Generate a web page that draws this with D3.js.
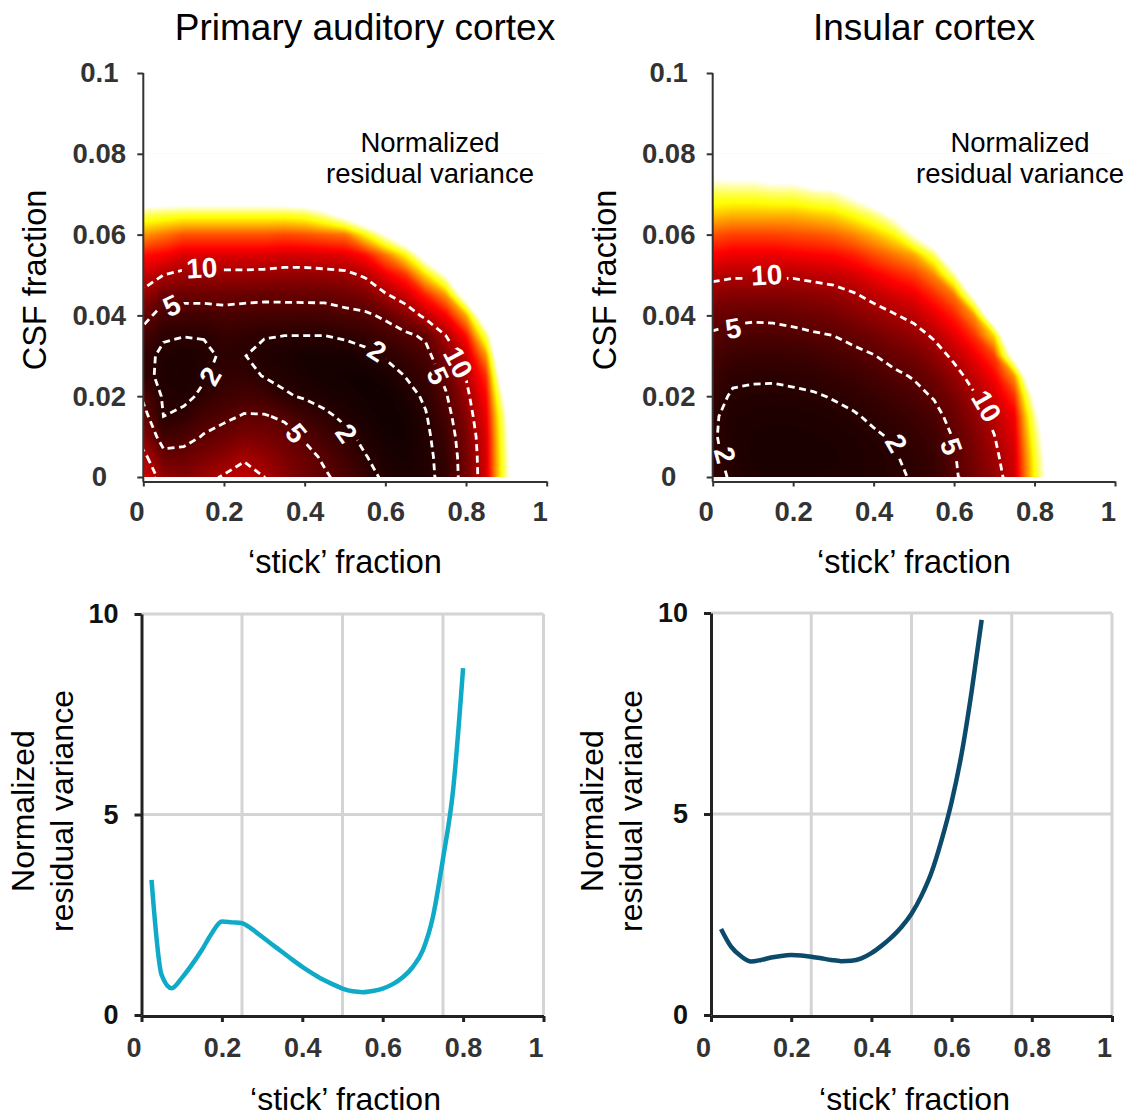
<!DOCTYPE html>
<html>
<head>
<meta charset="utf-8">
<script src="https://cdn.jsdelivr.net/npm/d3@7"></script>
<style>
  body { margin: 0; background: #fff; }
  svg { display: block; }
</style>
</head>
<body>
<svg id="chart" width="1131" height="1117"></svg>
<script>
// ---- heatmap grid (stick fraction columns x CSF fraction rows) ----
const stickGrid = [0, 0.05, 0.1, 0.15, 0.2, 0.25, 0.3, 0.35, 0.4, 0.45, 0.5,
                   0.55, 0.6, 0.65, 0.7, 0.75, 0.8, 0.85, 0.9, 0.95, 1]
const csfGrid = [0, 0.005, 0.01, 0.015, 0.02, 0.025, 0.03, 0.035, 0.04,
                 0.045, 0.05, 0.055, 0.06, 0.065, 0.07, 0.075, 0.08]

// normalized residual variance, one array per stick value (CSF 0 -> 0.08)
const auditoryCols = [
  [13, 11, 8, 6, 4.5, 2.7, 2.6, 4, 6, 9, 12, 16, 24, 34, 50, 60, 60],
  [8.5, 6, 3.5, 2.0, 1.7, 1.4, 1.6, 2.2, 3.8, 6, 10, 15, 22, 33, 50, 60, 60],
  [7.5, 6, 4, 2.5, 1.5, 1.2, 1.3, 2.05, 3.5, 6, 9, 13, 20, 32, 50, 60, 60],
  [9, 7, 5.2, 3.8, 2.4, 1.8, 1.6, 2.1, 3.5, 6, 9, 13, 20, 32, 50, 60, 60],
  [10.3, 8, 6, 4.5, 3.3, 2.6, 2.25, 2.8, 4, 6, 9, 13, 20, 32, 50, 60, 60],
  [11.5, 9.5, 7, 5.2, 3.8, 2.6, 2.05, 2.5, 3.8, 5.8, 9, 13, 20, 32, 50, 60, 60],
  [10, 8.5, 6.8, 5.2, 3.4, 1.9, 1.5, 2.1, 3.8, 5.6, 8.8, 13, 20, 32, 50, 60, 60],
  [8, 7, 6, 4.6, 2.2, 1.6, 1.2, 2.0, 3.7, 5.7, 8.5, 12.5, 19.5, 32, 51, 60, 60],
  [6.5, 5.8, 4.7, 3.2, 1.8, 1.1, 0.9, 2.0, 3.6, 5.8, 8.4, 12.7, 20, 33, 52, 60, 60],
  [5.3, 4.6, 3.6, 2.4, 1.3, 0.8, 1.0, 2.0, 3.7, 5.8, 8.7, 13, 21, 37, 55, 60, 60],
  [4.2, 3.5, 2.5, 1.6, 1.0, 0.7, 0.9, 2.3, 4.2, 6.3, 9, 13.5, 22, 44, 60, 60, 60],
  [2.8, 2.1, 1.5, 1.0, 0.7, 0.7, 1.4, 2.8, 4.5, 7, 10.5, 16, 30, 52, 60, 60, 60],
  [1.6, 1.2, 0.8, 0.6, 0.6, 1.0, 2.2, 3.6, 5.5, 9.5, 14, 22, 40, 60, 60, 60, 60],
  [1.2, 0.9, 0.7, 0.8, 1.3, 2.05, 3.0, 4.4, 7.5, 12, 18, 30, 52, 60, 60, 60, 60],
  [1.5, 1.5, 1.6, 1.85, 2.3, 3.0, 4.0, 5.5, 11, 17, 28, 45, 60, 60, 60, 60, 60],
  [2.6, 2.8, 3.2, 3.8, 4.7, 5.8, 7.5, 10, 15, 24, 40, 58, 60, 60, 60, 60, 60],
  [6.5, 6.6, 7, 7.8, 8.8, 10.2, 11.5, 16, 25, 45, 60, 60, 60, 60, 60, 60, 60],
  [12.5, 12.7, 13, 14, 15.5, 18, 24, 34, 50, 60, 60, 60, 60, 60, 60, 60, 60],
  [36, 36.5, 37.5, 39, 44, 52, 60, 60, 60, 60, 60, 60, 60, 60, 60, 60, 60],
  [60, 60, 60, 60, 60, 60, 60, 60, 60, 60, 60, 60, 60, 60, 60, 60, 60],
  [60, 60, 60, 60, 60, 60, 60, 60, 60, 60, 60, 60, 60, 60, 60, 60, 60]
]

const insularCols = [
  [2.5, 2.3, 2.15, 2.2, 2.6, 3.2, 3.9, 4.7, 6, 8, 11, 15, 20, 27, 33, 42, 60],
  [1.8, 1.6, 1.5, 1.55, 1.8, 2.3, 3.1, 4.3, 5.6, 7.5, 10.5, 14, 19, 26, 33, 43, 60],
  [1.3, 1.2, 1.2, 1.35, 1.7, 2.2, 3.0, 4.2, 5.4, 7.5, 10.5, 14, 19, 26, 33, 43, 60],
  [1.2, 1.1, 1.1, 1.3, 1.65, 2.2, 3.0, 4.2, 5.5, 7.5, 10.5, 14, 19, 26, 34, 45, 60],
  [1.2, 1.1, 1.15, 1.35, 1.75, 2.3, 3.1, 4.4, 5.8, 7.6, 10.5, 14.5, 19.5, 26, 34, 45, 60],
  [1.25, 1.15, 1.2, 1.45, 1.85, 2.5, 3.4, 4.7, 6.2, 8, 11, 15, 20, 27, 36, 50, 60],
  [1.3, 1.2, 1.3, 1.6, 2.1, 2.8, 3.8, 5.0, 6.6, 8.5, 11.5, 15.5, 21, 28, 37, 52, 60],
  [1.4, 1.35, 1.5, 1.85, 2.4, 3.2, 4.3, 5.7, 7.5, 9.6, 12.5, 17, 23, 31, 42, 60, 60],
  [1.6, 1.6, 1.8, 2.25, 2.9, 3.8, 4.9, 6.5, 8.5, 11, 14.5, 19.5, 26, 35, 50, 60, 60],
  [1.8, 1.9, 2.15, 2.7, 3.5, 4.5, 5.8, 7.5, 9.7, 12.5, 16.5, 22, 30, 42, 60, 60, 60],
  [2.1, 2.3, 2.7, 3.3, 4.2, 5.2, 6.6, 8.5, 11, 14, 18.5, 25, 40, 60, 60, 60, 60],
  [2.8, 3.0, 3.4, 4.1, 5.2, 6.5, 8.2, 10.5, 13.5, 17.5, 23, 34, 52, 60, 60, 60, 60],
  [4.6, 4.8, 5.2, 6.0, 7.0, 8.6, 10.8, 13.5, 17, 22, 36, 55, 60, 60, 60, 60, 60],
  [6.5, 6.8, 7.3, 8.2, 9.6, 11.5, 14, 18, 24, 42, 60, 60, 60, 60, 60, 60, 60],
  [8.5, 9.2, 9.9, 11, 12.5, 15, 19, 28, 50, 60, 60, 60, 60, 60, 60, 60, 60],
  [12, 12.5, 13.5, 14.5, 18, 24, 44, 60, 60, 60, 60, 60, 60, 60, 60, 60, 60],
  [30, 31, 33, 36, 42, 55, 60, 60, 60, 60, 60, 60, 60, 60, 60, 60, 60],
  [48, 50, 52, 56, 60, 60, 60, 60, 60, 60, 60, 60, 60, 60, 60, 60, 60],
  [60, 60, 60, 60, 60, 60, 60, 60, 60, 60, 60, 60, 60, 60, 60, 60, 60],
  [60, 60, 60, 60, 60, 60, 60, 60, 60, 60, 60, 60, 60, 60, 60, 60, 60],
  [60, 60, 60, 60, 60, 60, 60, 60, 60, 60, 60, 60, 60, 60, 60, 60, 60]
]

const contourLevels = [2, 5, 10]

// contour label anchors (stick, CSF) and text angle
const auditoryLabels = [
  { text: "10", stick: 0.145, csf: 0.0518, angle: -3 },
  { text: "5", stick: 0.07, csf: 0.0425, angle: -25 },
  { text: "2", stick: 0.165, csf: 0.025, angle: -60 },
  { text: "2", stick: 0.58, csf: 0.0313, angle: 32 },
  { text: "10", stick: 0.781, csf: 0.0284, angle: 62 },
  { text: "5", stick: 0.731, csf: 0.0251, angle: 65 },
  { text: "5", stick: 0.38, csf: 0.0109, angle: 50 },
  { text: "2", stick: 0.504, csf: 0.0109, angle: 55 }
]
const insularLabels = [
  { text: "10", stick: 0.134, csf: 0.0501, angle: -3 },
  { text: "5", stick: 0.051, csf: 0.0369, angle: -10 },
  { text: "2", stick: 0.031, csf: 0.0055, angle: 75 },
  { text: "2", stick: 0.457, csf: 0.0084, angle: 60 },
  { text: "5", stick: 0.594, csf: 0.0076, angle: 70 },
  { text: "10", stick: 0.681, csf: 0.0176, angle: 60 }
]

// ---- line profiles (CSF fraction = 0) ----
const auditoryStick = [0.025, 0.05, 0.075, 0.1, 0.125, 0.15, 0.175, 0.2, 0.225, 0.25,
  0.275, 0.3, 0.325, 0.35, 0.375, 0.4, 0.425, 0.45, 0.475, 0.5, 0.525, 0.55, 0.575,
  0.6, 0.625, 0.65, 0.675, 0.7, 0.725, 0.75, 0.775, 0.8]
const auditoryResid = [3.37, 1.0, 0.67, 0.92, 1.25, 1.62, 2.04, 2.33, 2.31, 2.29,
  2.14, 1.95, 1.76, 1.57, 1.38, 1.2, 1.04, 0.89, 0.77, 0.66, 0.59, 0.57, 0.6,
  0.66, 0.77, 0.94, 1.2, 1.62, 2.45, 3.9, 5.6, 8.65]

const insularStick = [0.025, 0.05, 0.075, 0.1, 0.125, 0.15, 0.175, 0.2, 0.225, 0.25,
  0.275, 0.3, 0.325, 0.35, 0.375, 0.4, 0.425, 0.45, 0.475, 0.5, 0.525, 0.55, 0.575,
  0.6, 0.625, 0.65, 0.675]
const insularResid = [2.14, 1.7, 1.46, 1.33, 1.37, 1.43, 1.47, 1.49, 1.48, 1.45,
  1.41, 1.37, 1.34, 1.35, 1.41, 1.54, 1.72, 1.93, 2.19, 2.52, 2.97, 3.55, 4.35,
  5.3, 6.5, 8.05, 9.83]

const csfTicks = [0, 0.02, 0.04, 0.06, 0.08, 0.1]
const stickTicks = [0, 0.2, 0.4, 0.6, 0.8, 1]
const residTicks = [0, 5, 10]
const gridStick = [0.25, 0.5, 0.75, 1]
const gridResid = [5, 10]

// ---- drawing ----
const FONT = "'Liberation Sans', Arial, Helvetica, sans-serif"
const colorMax = 40
const bandLevels = d3.range(0, colorMax + 0.001, 0.25)

const svg = d3.select("#chart").attr("font-family", FONT)
const defs = svg.append("defs")

// matlab-like "hot" colormap
function hot(v) {
  const t = Math.max(0, Math.min(1, v / colorMax))
  const r = 0.04 + 0.96 * Math.min(1, t / 0.375)
  const g = Math.max(0, Math.min(1, (t - 0.375) / 0.375))
  const b = Math.max(0, Math.min(1, (t - 0.75) / 0.25))
  return d3.rgb(r * 255, g * 255, b * 255).toString()
}

function heatPanel(id, cols, labels, x, y, legendX) {
  const nx = stickGrid.length, ny = csfGrid.length
  const values = []
  for (let j = 0; j < ny; j++) for (let i = 0; i < nx; i++) values.push(cols[i][j])

  const gx = d3.scaleLinear().domain([0.5, nx - 0.5]).range([x(stickGrid[0]), x(stickGrid[nx - 1])])
  const gy = d3.scaleLinear().domain([0.5, ny - 0.5]).range([y(csfGrid[0]), y(csfGrid[ny - 1])])
  const path = d3.geoPath(d3.geoTransform({
    point(px, py) { this.stream.point(gx(px), gy(py)) }
  }))

  defs.append("clipPath").attr("id", id + "-clip")
    .append("rect")
    .attr("x", x(0)).attr("y", y(csfGrid[ny - 1]))
    .attr("width", x(1) - x(0)).attr("height", y(0) - y(csfGrid[ny - 1]))

  const mask = defs.append("mask").attr("id", id + "-mask").attr("maskUnits", "userSpaceOnUse")
    .attr("x", 0).attr("y", 0).attr("width", 1131).attr("height", 1117)
  mask.append("rect").attr("width", 1131).attr("height", 1117).attr("fill", "white")
  labels.forEach(l => {
    const w = l.text.length * 16 + 8
    mask.append("rect")
      .attr("x", -w / 2).attr("y", -13).attr("width", w).attr("height", 26)
      .attr("fill", "black")
      .attr("transform", `translate(${x(l.stick)},${y(l.csf)}) rotate(${l.angle})`)
  })

  const g = svg.append("g").attr("clip-path", `url(#${id}-clip)`)

  g.append("g").selectAll("path")
    .data(d3.contours().size([nx, ny]).thresholds(bandLevels)(values))
    .join("path")
    .attr("d", path)
    .attr("fill", d => hot(d.value))

  g.append("g").attr("mask", `url(#${id}-mask)`).selectAll("path")
    .data(d3.contours().size([nx, ny]).thresholds(contourLevels)(values))
    .join("path")
    .attr("d", path)
    .attr("fill", "none")
    .attr("stroke", "#fff")
    .attr("stroke-width", 2.8)
    .attr("stroke-dasharray", "7 4.5")

  g.append("g").selectAll("text")
    .data(labels)
    .join("text")
    .attr("transform", d => `translate(${x(d.stick)},${y(d.csf)}) rotate(${d.angle})`)
    .attr("text-anchor", "middle")
    .attr("dy", "0.36em")
    .attr("fill", "#fff")
    .attr("font-size", 28)
    .attr("font-weight", "bold")
    .text(d => d.text)

  // axes
  const ya = svg.append("g")
    .attr("transform", `translate(${x(0)},0)`)
    .call(d3.axisLeft(y).tickValues(csfTicks).tickSize(6).tickSizeOuter(0).tickFormat(d => String(d)))
  ya.select(".domain").attr("stroke", "#333").attr("stroke-width", 2)
    .attr("d", `M0,${y(0) + 5}V${y(0.1)}`)
  ya.selectAll(".tick line").attr("stroke", "#333").attr("stroke-width", 2)
  ya.selectAll(".tick text")
    .attr("x", -44).attr("text-anchor", "middle")
    .attr("font-size", 27.5).attr("font-weight", "bold").attr("font-family", FONT).attr("fill", "#333")

  const xa = svg.append("g")
    .attr("transform", `translate(0,${y(0) + 4.5})`)
    .call(d3.axisBottom(x).tickValues(stickTicks).tickSize(5).tickSizeOuter(0).tickFormat(d => String(d)))
  xa.select(".domain").attr("stroke", "#333").attr("stroke-width", 2)
  xa.selectAll(".tick line").attr("stroke", "#333").attr("stroke-width", 2)
  xa.selectAll(".tick text")
    .attr("y", 19.5).attr("dx", d => (d === 0 || d === 1) ? -7 : 0)
    .attr("font-size", 27.5).attr("font-weight", "bold").attr("font-family", FONT).attr("fill", "#333")

  const cx = (x(0) + x(1)) / 2
  svg.append("text").attr("x", cx).attr("y", 573).attr("text-anchor", "middle")
    .attr("font-size", 32.5).text("\u2018stick\u2019 fraction")
  svg.append("text")
    .attr("transform", `translate(${x(0) - 97},${280}) rotate(-90)`)
    .attr("text-anchor", "middle").attr("font-size", 32.5).text("CSF fraction")
  svg.append("text").attr("x", legendX).attr("y", 152).attr("text-anchor", "middle")
    .attr("font-size", 27.5).text("Normalized")
  svg.append("text").attr("x", legendX).attr("y", 183).attr("text-anchor", "middle")
    .attr("font-size", 27.5).text("residual variance")
}

function linePanel(xs, ys, color, x, y) {
  // grid
  svg.append("g").selectAll("line").data(gridStick).join("line")
    .attr("x1", d => x(d)).attr("x2", d => x(d))
    .attr("y1", y(0)).attr("y2", y(10))
    .attr("stroke", "#d4d4d4").attr("stroke-width", 3)
  svg.append("g").selectAll("line").data(gridResid).join("line")
    .attr("x1", x(0)).attr("x2", x(1))
    .attr("y1", d => y(d)).attr("y2", d => y(d))
    .attr("stroke", "#d4d4d4").attr("stroke-width", 3)

  const pts = xs.map((s, i) => [s, ys[i]])
  svg.append("path")
    .datum(pts)
    .attr("fill", "none")
    .attr("stroke", color)
    .attr("stroke-width", 4.5)
    .attr("stroke-linejoin", "round")
    .attr("d", d3.line().x(d => x(d[0])).y(d => y(d[1])).curve(d3.curveMonotoneX))

  const ya = svg.append("g")
    .attr("transform", `translate(${x(0)},0)`)
    .call(d3.axisLeft(y).tickValues(residTicks).tickSize(7).tickSizeOuter(0))
  ya.select(".domain").attr("stroke", "#222").attr("stroke-width", 3)
  ya.selectAll(".tick line").attr("stroke", "#222").attr("stroke-width", 3)
  ya.selectAll(".tick text")
    .attr("x", -23)
    .attr("font-size", 27).attr("font-weight", "bold").attr("font-family", FONT).attr("fill", "#111")

  const xa = svg.append("g")
    .attr("transform", `translate(0,${y(0) + 1})`)
    .call(d3.axisBottom(x).tickValues(stickTicks).tickSize(6).tickSizeOuter(0).tickFormat(d => String(d)))
  xa.select(".domain").attr("stroke", "#222").attr("stroke-width", 3)
  xa.selectAll(".tick line").attr("stroke", "#222").attr("stroke-width", 3)
  xa.selectAll(".tick text")
    .attr("y", 22).attr("dx", d => (d === 0 || d === 1) ? -8 : 0)
    .attr("font-size", 27).attr("font-weight", "bold").attr("font-family", FONT).attr("fill", "#333")

  const cx = (x(0) + x(1)) / 2
  svg.append("text").attr("x", cx + 3).attr("y", 1110).attr("text-anchor", "middle")
    .attr("font-size", 32).text("\u2018stick\u2019 fraction")
  svg.append("text")
    .attr("transform", `translate(${x(0) - 108},811) rotate(-90)`)
    .attr("text-anchor", "middle").attr("font-size", 32).text("Normalized")
  svg.append("text")
    .attr("transform", `translate(${x(0) - 69},811) rotate(-90)`)
    .attr("text-anchor", "middle").attr("font-size", 32).text("residual variance")
}

// titles
svg.append("text").attr("x", 365).attr("y", 40).attr("text-anchor", "middle")
  .attr("font-size", 37).text("Primary auditory cortex")
svg.append("text").attr("x", 924).attr("y", 40).attr("text-anchor", "middle")
  .attr("font-size", 37).text("Insular cortex")

const yHeat = d3.scaleLinear().domain([0, 0.1]).range([477, 73])
heatPanel("aud", auditoryCols, auditoryLabels,
  d3.scaleLinear().domain([0, 1]).range([143.3, 546.7]), yHeat, 430)
heatPanel("ins", insularCols, insularLabels,
  d3.scaleLinear().domain([0, 1]).range([712.7, 1115]), yHeat, 1020)

linePanel(auditoryStick, auditoryResid, "#0eaac7",
  d3.scaleLinear().domain([0, 1]).range([141.5, 543.5]),
  d3.scaleLinear().domain([0, 10]).range([1015, 614]))
linePanel(insularStick, insularResid, "#0c4a6b",
  d3.scaleLinear().domain([0, 1]).range([711, 1112]),
  d3.scaleLinear().domain([0, 10]).range([1015, 613]))
</script>
</body>
</html>
